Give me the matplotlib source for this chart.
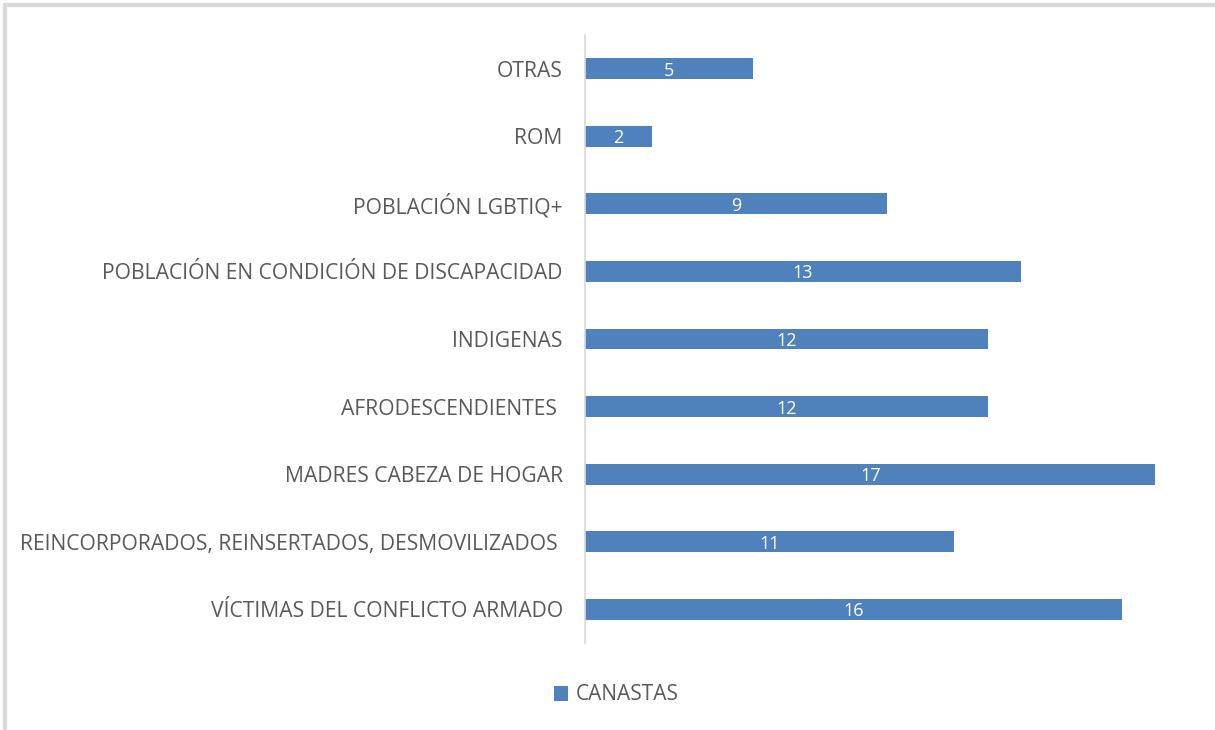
import matplotlib.pyplot as plt
from matplotlib.patches import Rectangle

categories = ['VÍCTIMAS DEL CONFLICTO ARMADO',
              'REINCORPORADOS, REINSERTADOS, DESMOVILIZADOS ',
              'MADRES CABEZA DE HOGAR',
              'AFRODESCENDIENTES ',
              'INDIGENAS',
              'POBLACIÓN EN CONDICIÓN DE DISCAPACIDAD',
              'POBLACIÓN LGBTIQ+',
              'ROM',
              'OTRAS']
canastas = [16, 11, 17, 12, 12, 13, 9, 2, 5]

W, H = 1215, 730
fig = plt.figure(figsize=(W / 100, H / 100), dpi=100)
plt.rcParams['font.family'] = ['Open Sans', 'DejaVu Sans']

# chart border
fig.patches.append(Rectangle((5 / W, -0.05), 1.2, 1.05 - 5 / H, transform=fig.transFigure,
                             fill=False, edgecolor='#d9d9d9', linewidth=3))

ax = fig.add_axes([585 / W, 1 - 643 / H, (1189 - 585) / W, (643 - 35) / H])
y = range(len(categories))
bars = ax.barh(y, canastas, height=0.31, color='#4f81bd', label='CANASTAS')
ax.set_xlim(0, 18)
ax.set_ylim(-0.5, len(categories) - 0.5)
ax.set_yticks(list(y))
ax.set_yticklabels(categories, fontsize=15.2, color='#595959')
ax.tick_params(axis='y', length=0, pad=16)
ax.set_xticks([])
for s in ['top', 'right', 'bottom']:
    ax.spines[s].set_visible(False)
ax.spines['left'].set_color('#d9d9d9')
ax.spines['left'].set_linewidth(1.2)

for b, v in zip(bars, canastas):
    ax.text(b.get_width() / 2, b.get_y() + b.get_height() / 2, str(v),
            ha='center', va='center_baseline', color='white', fontsize=13)

fig.legend(handles=[bars], labels=['CANASTAS'], loc='center', bbox_to_anchor=(616 / W, 1 - 695 / H),
           frameon=False, fontsize=15, labelcolor='#595959', handlelength=0.7, handleheight=0.7,
           handletextpad=0.35)

fig.savefig('out.png', dpi=100)
